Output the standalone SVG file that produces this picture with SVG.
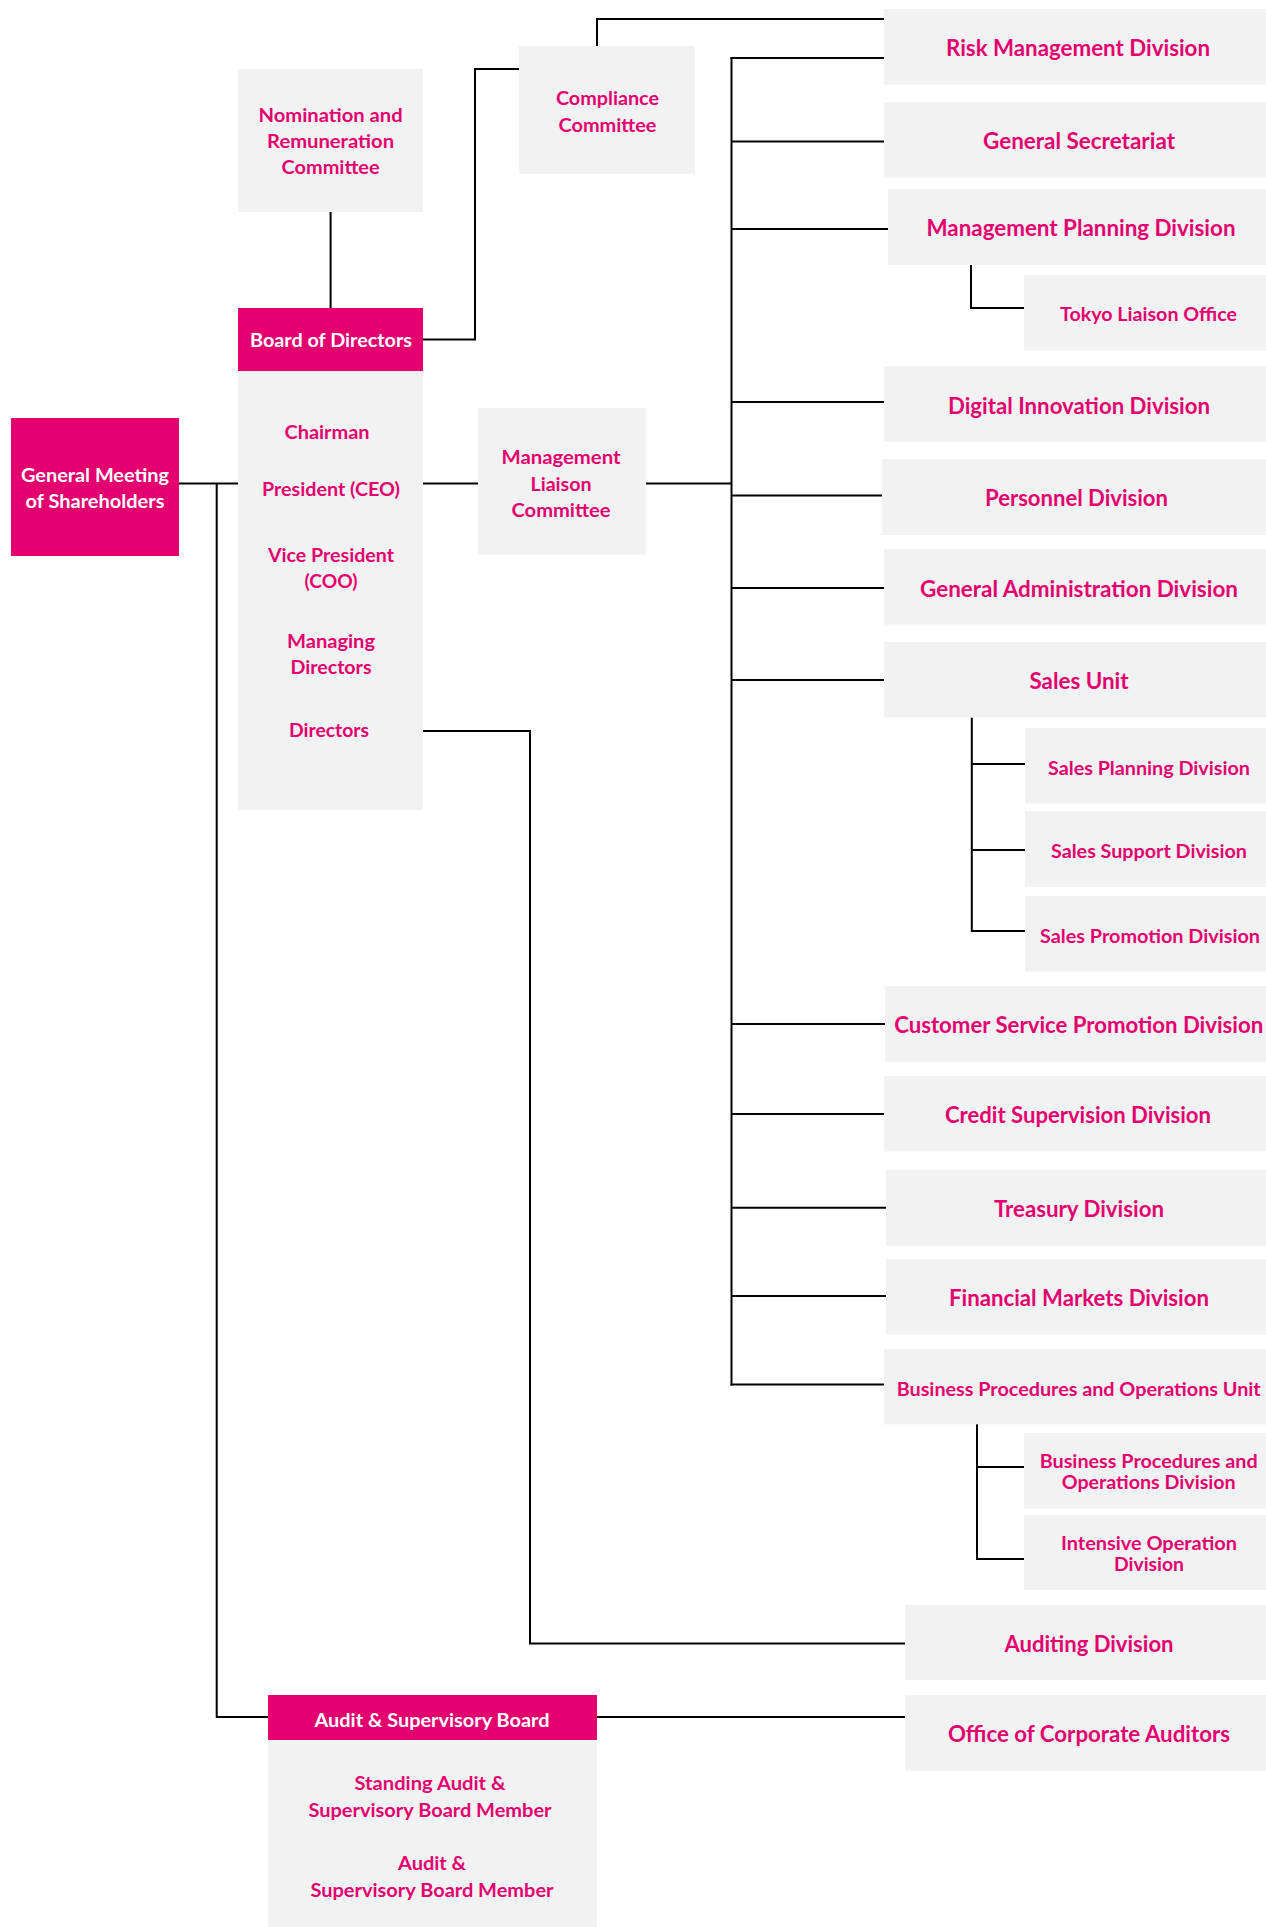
<svg xmlns="http://www.w3.org/2000/svg" width="1266" height="1927" viewBox="0 0 1266 1927">
  <style>
    .box { fill: #F2F2F2; }
    .head { fill: #E4006F; }
    .lbl { font-family: Lato, "Noto Sans", "Liberation Sans", sans-serif; font-weight: bold; fill: #E4006F; text-anchor: middle; dominant-baseline: central; }
    .wht { fill: #FFFFFF; }
    .main { font-size: 22px; }
    .sub { font-size: 19.5px; }
    .side { font-size: 19.5px; }
    .links { fill: none; stroke: #000; stroke-width: 2; stroke-linejoin: miter; }
  </style>
  <rect width="1266" height="1927" fill="#FFFFFF"/>

  <!-- connectors -->
  <g id="connectors" class="links">
    <!-- nomination committee to board -->
    <line x1="330.6" y1="212" x2="330.6" y2="308"/>
    <!-- board to compliance committee -->
    <polyline points="423,339.5 475,339.5 475,69 519,69"/>
    <!-- compliance committee to risk management -->
    <polyline points="597,46 597,19 884,19"/>
    <!-- shareholders to board, and down to audit board -->
    <line x1="179" y1="483.4" x2="238" y2="483.4"/>
    <polyline points="216.7,483.4 216.7,1717 268,1717"/>
    <!-- board to management liaison committee -->
    <line x1="423" y1="483.4" x2="478" y2="483.4"/>
    <line x1="646" y1="483.4" x2="731.5" y2="483.4"/>
    <!-- main trunk -->
    <line x1="731.5" y1="57" x2="731.5" y2="1385.5"/>
    <line x1="730.5" y1="58" x2="884" y2="58"/>
    <line x1="731.5" y1="141.6" x2="884" y2="141.6"/>
    <line x1="731.5" y1="229" x2="888" y2="229"/>
    <line x1="731.5" y1="402" x2="884" y2="402"/>
    <line x1="731.5" y1="495.6" x2="882" y2="495.6"/>
    <line x1="731.5" y1="588" x2="884" y2="588"/>
    <line x1="731.5" y1="680" x2="884" y2="680"/>
    <line x1="731.5" y1="1024" x2="885" y2="1024"/>
    <line x1="731.5" y1="1114" x2="884" y2="1114"/>
    <line x1="731.5" y1="1207.7" x2="886" y2="1207.7"/>
    <line x1="731.5" y1="1296" x2="886" y2="1296"/>
    <line x1="730.5" y1="1384.5" x2="884" y2="1384.5"/>
    <!-- management planning to tokyo office -->
    <polyline points="971,265 971,308 1024,308"/>
    <!-- sales unit branches -->
    <polyline points="971.8,717.5 971.8,931 1025,931"/>
    <line x1="971.8" y1="764" x2="1025" y2="764"/>
    <line x1="971.8" y1="850" x2="1025" y2="850"/>
    <!-- business procedures unit branches -->
    <polyline points="977,1424 977,1559 1024,1559"/>
    <line x1="977" y1="1467" x2="1024" y2="1467"/>
    <!-- directors to auditing division -->
    <polyline points="423,731 530,731 530,1643.5 905,1643.5"/>
    <!-- audit board to office of corporate auditors -->
    <line x1="597" y1="1717" x2="905" y2="1717"/>
  </g>

  <!-- left column -->
  <g id="nomination-committee">
    <rect class="box" x="238" y="69" width="185" height="143"/>
    <text class="lbl side" x="330.6" y="114" textLength="144" lengthAdjust="spacingAndGlyphs">Nomination and</text>
    <text class="lbl side" x="330.6" y="140.5" textLength="127" lengthAdjust="spacingAndGlyphs">Remuneration</text>
    <text class="lbl side" x="330.6" y="166.5" textLength="98" lengthAdjust="spacingAndGlyphs">Committee</text>
  </g>

  <g id="compliance-committee">
    <rect class="box" x="519" y="46" width="176" height="128"/>
    <text class="lbl side" x="607.5" y="97.6" textLength="103" lengthAdjust="spacingAndGlyphs">Compliance</text>
    <text class="lbl side" x="607.5" y="124.4" textLength="98" lengthAdjust="spacingAndGlyphs">Committee</text>
  </g>

  <g id="board-of-directors">
    <rect class="head" x="238" y="308" width="185" height="63"/>
    <rect class="box" x="238" y="371" width="185" height="439"/>
    <text class="lbl side wht" x="331" y="339.5" textLength="162" lengthAdjust="spacingAndGlyphs">Board of Directors</text>
    <text class="lbl side" x="327" y="431.7" textLength="85" lengthAdjust="spacingAndGlyphs">Chairman</text>
    <text class="lbl side" x="331" y="488" textLength="138" lengthAdjust="spacingAndGlyphs">President (CEO)</text>
    <text class="lbl side" x="331" y="554" textLength="126" lengthAdjust="spacingAndGlyphs">Vice President</text>
    <text class="lbl side" x="331" y="580" textLength="53" lengthAdjust="spacingAndGlyphs">(COO)</text>
    <text class="lbl side" x="331" y="640.7" textLength="88" lengthAdjust="spacingAndGlyphs">Managing</text>
    <text class="lbl side" x="331" y="666" textLength="81" lengthAdjust="spacingAndGlyphs">Directors</text>
    <text class="lbl side" x="329" y="729" textLength="80" lengthAdjust="spacingAndGlyphs">Directors</text>
  </g>

  <g id="general-meeting">
    <rect class="head" x="11" y="418" width="168" height="138"/>
    <text class="lbl side wht" x="95" y="474.6" textLength="148" lengthAdjust="spacingAndGlyphs">General Meeting</text>
    <text class="lbl side wht" x="95" y="500.6" textLength="139" lengthAdjust="spacingAndGlyphs">of Shareholders</text>
  </g>

  <g id="management-liaison-committee">
    <rect class="box" x="478" y="408" width="168" height="146.5"/>
    <text class="lbl side" x="561" y="456.5" textLength="119" lengthAdjust="spacingAndGlyphs">Management</text>
    <text class="lbl side" x="561" y="483" textLength="61" lengthAdjust="spacingAndGlyphs">Liaison</text>
    <text class="lbl side" x="561" y="509" textLength="99" lengthAdjust="spacingAndGlyphs">Committee</text>
  </g>

  <g id="audit-supervisory-board">
    <rect class="head" x="268" y="1695" width="329" height="45"/>
    <rect class="box" x="268" y="1740" width="329" height="187"/>
    <text class="lbl side wht" x="432" y="1719" textLength="235" lengthAdjust="spacingAndGlyphs">Audit &amp; Supervisory Board</text>
    <text class="lbl side" x="430" y="1782.7" textLength="151" lengthAdjust="spacingAndGlyphs">Standing Audit &amp;</text>
    <text class="lbl side" x="430" y="1809" textLength="243" lengthAdjust="spacingAndGlyphs">Supervisory Board Member</text>
    <text class="lbl side" x="432" y="1862" textLength="68" lengthAdjust="spacingAndGlyphs">Audit &amp;</text>
    <text class="lbl side" x="432" y="1889" textLength="243" lengthAdjust="spacingAndGlyphs">Supervisory Board Member</text>
  </g>

  <!-- right column: divisions -->
  <g id="risk-management">
    <rect class="box" x="884" y="9" width="382" height="75.6"/>
    <text class="lbl main" x="1078" y="47.8" textLength="264" lengthAdjust="spacingAndGlyphs">Risk Management Division</text>
  </g>
  <g id="general-secretariat">
    <rect class="box" x="884" y="102" width="382" height="75.6"/>
    <text class="lbl main" x="1079" y="140.5" textLength="192" lengthAdjust="spacingAndGlyphs">General Secretariat</text>
  </g>
  <g id="management-planning">
    <rect class="box" x="888" y="189" width="378" height="76"/>
    <text class="lbl main" x="1081" y="227.7" textLength="309" lengthAdjust="spacingAndGlyphs">Management Planning Division</text>
  </g>
  <g id="tokyo-liaison-office">
    <rect class="box" x="1024" y="274.8" width="242" height="75.8"/>
    <text class="lbl sub" x="1148.5" y="313" textLength="177" lengthAdjust="spacingAndGlyphs">Tokyo Liaison Office</text>
  </g>
  <g id="digital-innovation">
    <rect class="box" x="884" y="366" width="382" height="76"/>
    <text class="lbl main" x="1079" y="405" textLength="262" lengthAdjust="spacingAndGlyphs">Digital Innovation Division</text>
  </g>
  <g id="personnel">
    <rect class="box" x="882" y="459" width="384" height="76"/>
    <text class="lbl main" x="1076.5" y="497.5" textLength="183" lengthAdjust="spacingAndGlyphs">Personnel Division</text>
  </g>
  <g id="general-administration">
    <rect class="box" x="884" y="549" width="382" height="75.6"/>
    <text class="lbl main" x="1079" y="588" textLength="318" lengthAdjust="spacingAndGlyphs">General Administration Division</text>
  </g>
  <g id="sales-unit">
    <rect class="box" x="884" y="642" width="382" height="75.5"/>
    <text class="lbl main" x="1079" y="680" textLength="99" lengthAdjust="spacingAndGlyphs">Sales Unit</text>
  </g>
  <g id="sales-planning">
    <rect class="box" x="1025" y="728" width="241" height="75.6"/>
    <text class="lbl sub" x="1149" y="767" textLength="202" lengthAdjust="spacingAndGlyphs">Sales Planning Division</text>
  </g>
  <g id="sales-support">
    <rect class="box" x="1025" y="811" width="241" height="75.8"/>
    <text class="lbl sub" x="1149" y="850" textLength="196" lengthAdjust="spacingAndGlyphs">Sales Support Division</text>
  </g>
  <g id="sales-promotion">
    <rect class="box" x="1025" y="896" width="241" height="75.7"/>
    <text class="lbl sub" x="1150" y="935.7" textLength="220" lengthAdjust="spacingAndGlyphs">Sales Promotion Division</text>
  </g>
  <g id="customer-service-promotion">
    <rect class="box" x="885" y="986" width="381" height="75.7"/>
    <text class="lbl main" x="1078.7" y="1024" textLength="369" lengthAdjust="spacingAndGlyphs">Customer Service Promotion Division</text>
  </g>
  <g id="credit-supervision">
    <rect class="box" x="884" y="1076" width="382" height="75.5"/>
    <text class="lbl main" x="1078" y="1114" textLength="266" lengthAdjust="spacingAndGlyphs">Credit Supervision Division</text>
  </g>
  <g id="treasury">
    <rect class="box" x="886" y="1169.8" width="380" height="75.9"/>
    <text class="lbl main" x="1079" y="1208.5" textLength="170" lengthAdjust="spacingAndGlyphs">Treasury Division</text>
  </g>
  <g id="financial-markets">
    <rect class="box" x="886" y="1259" width="380" height="75.6"/>
    <text class="lbl main" x="1079" y="1297.5" textLength="260" lengthAdjust="spacingAndGlyphs">Financial Markets Division</text>
  </g>
  <g id="business-procedures-unit">
    <rect class="box" x="884" y="1349" width="382" height="75.4"/>
    <text class="lbl sub" x="1078.7" y="1388.4" textLength="364" lengthAdjust="spacingAndGlyphs">Business Procedures and Operations Unit</text>
  </g>
  <g id="business-procedures-division">
    <rect class="box" x="1024" y="1433" width="242" height="75.6"/>
    <text class="lbl sub" x="1148.7" y="1460" textLength="218" lengthAdjust="spacingAndGlyphs">Business Procedures and</text>
    <text class="lbl sub" x="1148.7" y="1481" textLength="174" lengthAdjust="spacingAndGlyphs">Operations Division</text>
  </g>
  <g id="intensive-operation">
    <rect class="box" x="1024" y="1514.6" width="242" height="75.4"/>
    <text class="lbl sub" x="1149" y="1542.6" textLength="176" lengthAdjust="spacingAndGlyphs">Intensive Operation</text>
    <text class="lbl sub" x="1149" y="1563" textLength="70" lengthAdjust="spacingAndGlyphs">Division</text>
  </g>
  <g id="auditing">
    <rect class="box" x="905" y="1605" width="361" height="75"/>
    <text class="lbl main" x="1089" y="1643.5" textLength="169" lengthAdjust="spacingAndGlyphs">Auditing Division</text>
  </g>
  <g id="office-of-corporate-auditors">
    <rect class="box" x="905" y="1695" width="361" height="75.7"/>
    <text class="lbl main" x="1089" y="1733.5" textLength="282" lengthAdjust="spacingAndGlyphs">Office of Corporate Auditors</text>
  </g>
</svg>
